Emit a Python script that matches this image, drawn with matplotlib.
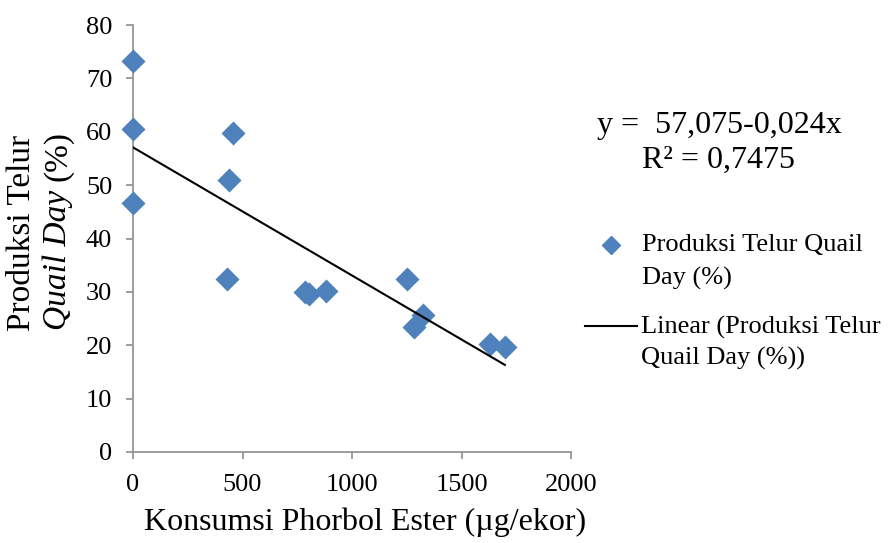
import matplotlib
matplotlib.use("Agg")
import matplotlib.pyplot as plt
from matplotlib.lines import Line2D
import numpy as np

# ── Data ──────────────────────────────────────────────────────────────────────
konsumsi = [0, 0, 0, 457, 438, 429, 786, 804, 881, 1251, 1283, 1324, 1629, 1698]
produksi = [73.3, 60.5, 46.6, 59.8, 51.0, 32.4, 30.0, 29.6, 30.2, 32.4, 23.4, 25.7, 20.2, 19.6]
intercept = 57.075
slope = -0.024
eq_label = "y =  57,075-0,024x"
r2_label = "R\u00b2 = 0,7475"
x_ticks = [0, 500, 1000, 1500, 2000]
y_ticks = [0, 10, 20, 30, 40, 50, 60, 70, 80]

# ── Style ─────────────────────────────────────────────────────────────────────
BLUE = "#4F81BD"
GRAY = "#959595"
plt.rcParams["font.family"] = ["Liberation Serif", "DejaVu Serif"]

fig = plt.figure(figsize=(8.9, 5.43), dpi=100)
ax = fig.add_axes([133 / 890, 1 - 452 / 543, (571 - 133) / 890, (452 - 25) / 543])

ax.scatter(konsumsi, produksi, marker="D", s=150, color=BLUE, zorder=3, clip_on=False,
           linewidths=0)
xl = np.array([0, max(konsumsi)])
ax.plot(xl, intercept + slope * xl, color="black", lw=1.5, zorder=4)

ax.set_xlim(0, 2000)
ax.set_ylim(0, 80)
ax.set_xticks(x_ticks)
ax.set_yticks(y_ticks)
for s in ["top", "right"]:
    ax.spines[s].set_visible(False)
for s in ["left", "bottom"]:
    ax.spines[s].set_color(GRAY)
    ax.spines[s].set_linewidth(1.3)
ax.tick_params(direction="out", length=5, width=1.3, color=GRAY, labelsize=19)
ax.tick_params(axis="x", pad=11)
ax.tick_params(axis="y", pad=10)

ax.set_xlabel("Konsumsi Phorbol Ester (\u00b5g/ekor)", fontsize=23, labelpad=8,
              x=(365 - 133) / 438)

# two-line y label, second line partly italic
fig.text(22 / 890, 1 - 233 / 543, "Produksi Telur", rotation=90, fontsize=24,
         ha="center", va="center")
renderer = fig.canvas.get_renderer()
t_it = fig.text(58 / 890, 1 - 330 / 543, "Quail Day", rotation=90, fontsize=24,
                style="italic", ha="center", va="bottom")
bb = t_it.get_window_extent(renderer)
fig.text(58 / 890, (bb.y1 + 9) / fig.bbox.height, "(%)", rotation=90, fontsize=24,
         ha="center", va="bottom")

# trendline equation
fig.text(597 / 890, 1 - 125 / 543, eq_label, fontsize=23, ha="left", va="center")
fig.text(642 / 890, 1 - 160 / 543, r2_label, fontsize=23, ha="left", va="center")

# legend drawn by hand to match layout
fig.add_artist(Line2D([611 / 890], [1 - 245 / 543], marker="D", markersize=9,
                      color=BLUE, lw=0, transform=fig.transFigure))
fig.text(642 / 890, 1 - 245 / 543, "Produksi Telur Quail", fontsize=19, ha="left", va="center")
fig.text(642 / 890, 1 - 278 / 543, "Day (%)", fontsize=19, ha="left", va="center")
fig.add_artist(Line2D([585 / 890, 637 / 890], [1 - 326 / 543, 1 - 326 / 543],
                      color="black", lw=1.5, transform=fig.transFigure))
fig.text(641 / 890, 1 - 327 / 543, "Linear (Produksi Telur", fontsize=19, ha="left", va="center")
fig.text(641 / 890, 1 - 358 / 543, "Quail Day (%))", fontsize=19, ha="left", va="center")

fig.savefig("out.png", dpi=100, facecolor="white")
